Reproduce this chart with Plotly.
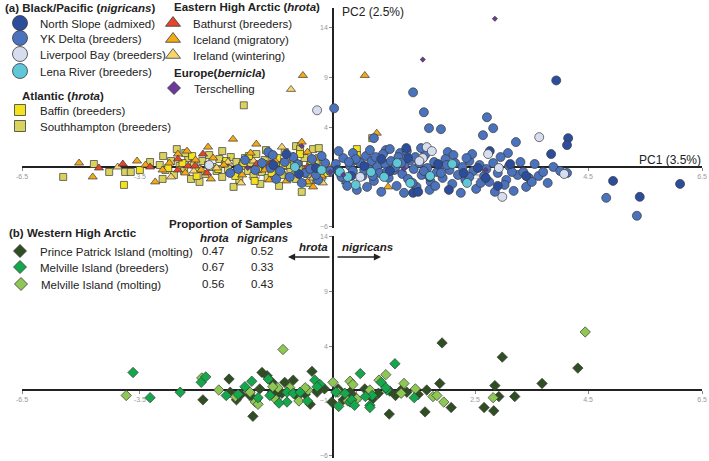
import plotly.graph_objects as go

W, H = 709, 461
FONT = "Liberation Sans, Arial, Helvetica, sans-serif"

# ---------------- data: (PC1, PC2) ----------------
# panel (a)
north_slope = [(3.93, 8.7), (4.14, 2.9), (4.12, 2.2), (1.29, 1.9), (2.76, 1.6), (3.84, 1.3), (1.41, -2.6),
               (1.50, -2.5), (2.04, -2.3), (4.93, -1.4), (5.40, -3.0), (6.11, -1.7), (2.69, -1.1), (-0.82, 1.3),
               (-0.30, -0.1), (0.08, -0.3), (0.55, 0.1), (1.00, -0.4), (1.85, 0.3), (2.30, -0.6), (3.12, 0.3),
               (3.40, -0.9), (0.32, -0.9), (0.85, 0.8), (1.70, -1.0), (2.55, -0.1), (-0.60, -0.7), (-1.05, 0.2),
               (1.32, 0.9), (2.90, -1.9)]
yk_delta = [(1.41, 7.5), (1.60, 5.5), (0.02, 5.9), (1.69, 3.9), (1.90, 3.8), (2.71, 5.0), (2.82, 3.9), (2.64, 3.2),
            (0.72, 2.9), (3.22, 2.5), (0.93, 1.7), (1.18, 1.4), (2.02, 1.5), (2.12, 1.2), (3.08, 1.4), (1.58, 0.9),
            (5.35, -4.9), (4.81, -3.1), (-1.81, -0.6), (-1.67, -0.2), (-1.55, 0.7), (-1.37, -0.3), (-1.25, 0.4),
            (-1.14, 1.5), (-1.06, 1.2), (-0.93, -0.4), (-0.85, 0.5), (-0.76, -1.0), (-0.63, 0.3), (-0.49, -0.6),
            (-0.37, 0.8), (-0.26, -1.3), (-0.14, 0.4), (-0.05, -0.4), (-0.70, 1.0), (-0.40, -0.2), (-0.20, 1.1),
            (-1.00, -1.2), (-0.55, -1.6), (0.05, 0.3), (0.12, -0.6), (0.18, 0.9), (0.22, -1.3), (0.30, 0.1),
            (0.35, -0.4), (0.42, -2.3), (0.48, 0.4), (0.52, -0.9), (0.58, 1.1), (0.63, -0.2), (0.68, 0.6),
            (0.72, -1.4), (0.78, 0.0), (0.82, -0.6), (0.88, 1.3), (0.92, 0.3), (0.98, -1.1), (1.02, 0.6),
            (1.08, -0.3), (1.12, -1.9), (1.15, 1.0), (1.22, -0.7), (1.26, 0.2), (1.32, -1.2), (1.36, 0.7),
            (1.42, -0.2), (1.47, -2.0), (1.52, 0.4), (1.56, -0.8), (1.62, 1.2), (1.66, -0.1), (1.72, -1.5),
            (1.78, 0.5), (1.83, -0.5), (1.88, 0.1), (1.93, -1.1), (1.98, 0.8), (2.05, -0.3), (2.10, -1.7),
            (2.15, 0.4), (2.20, -0.8), (2.28, 0.0), (2.33, -1.3), (2.40, 0.6), (2.47, -0.4), (2.52, -2.2),
            (2.58, 0.2), (2.66, -0.9), (2.75, -1.5), (2.82, 0.4), (2.90, -0.6), (3.05, -1.3), (3.10, 0.1),
            (3.18, -2.4), (3.25, -0.8), (3.35, -0.5), (3.45, -1.1), (3.55, 0.3), (3.62, -0.9), (3.70, -0.5),
            (3.78, -1.6), (3.88, 0.0), (4.00, -0.4), (4.12, -0.6), (0.10, 1.6), (0.35, 1.4), (0.65, 1.7),
            (1.00, 1.8), (1.30, 1.6), (1.55, 1.9), (2.45, 1.3), (0.25, -1.9), (0.60, -2.0), (0.85, -2.5),
            (1.25, -2.6), (1.70, -2.3), (2.25, -2.6), (2.85, -2.5), (3.02, -1.8), (3.40, -2.0), (0.40, 0.8),
            (0.75, 1.0), (1.10, 0.0), (1.45, 1.0), (1.90, -0.6), (2.35, 0.9), (2.95, 1.0), (3.30, 0.5),
            (0.15, -1.0), (0.55, -0.3), (0.95, -0.5), (1.40, -1.6), (1.80, -1.9), (2.60, -1.6), (3.50, -1.5),
            (-1.10, -0.1), (-0.30, -0.8), (0.28, 0.5), (0.70, -0.9), (1.20, 0.4), (1.60, -0.4), (2.00, 0.2),
            (2.40, -1.0), (2.70, -0.2), (3.15, -0.5)]
liverpool_bay = [(-0.28, 5.7), (1.65, 2.0), (1.74, 1.6), (1.58, 0.9), (2.73, 1.3), (2.92, -0.1), (4.07, -0.7),
                 (3.63, 3.0), (2.98, -3.0), (0.48, -1.0), (-2.18, 0.2), (1.52, 0.6)]
lena_river = [(1.13, 0.4), (0.67, -0.5), (0.90, -1.0), (1.36, -1.6), (1.71, -0.9), (2.36, -1.6), (0.40, -1.8),
              (-0.67, 0.0), (0.26, -1.0), (0.12, -0.5), (2.10, 0.3), (-0.20, -0.3)]
baffin = [(-3.68, -1.8), (-3.40, -0.3), (-2.90, -0.1), (-2.65, 0.4), (-2.40, -0.9), (-2.20, 0.2), (-2.02, -0.2),
          (-1.88, 0.6), (-1.72, -0.9), (-1.58, 0.4), (-1.48, 1.1), (-1.32, -0.2), (-1.22, 0.3), (-1.08, -0.6),
          (-0.98, 0.9), (-0.88, 0.2), (-0.78, -1.0), (-0.68, 0.4), (-0.58, 1.3), (-0.48, -0.3), (-0.38, 0.6),
          (-0.28, -1.3), (-0.18, 0.3), (-0.10, -0.6), (0.42, 1.8), (0.42, 1.2), (0.44, 0.6), (0.69, 2.9),
          (-2.48, 1.1), (-1.38, -1.4)]
southhampton = [(-4.21, 0.3), (-4.75, -1.0), (-3.94, -0.5), (-3.66, -0.5), (-3.56, -0.5), (-3.22, 0.5), (-2.99, 1.1),
                (-1.57, 6.2), (-3.05, 0.2), (-2.95, -0.3), (-2.85, 0.6), (-2.80, -0.8), (-2.70, 0.1), (-2.62, -0.4),
                (-2.55, 0.9), (-2.50, -1.2), (-2.45, 0.3), (-2.38, -0.2), (-2.30, 0.6), (-2.25, -0.7), (-2.18, 1.2),
                (-2.12, 0.0), (-2.05, -0.4), (-2.00, 0.8), (-1.95, -1.0), (-1.90, 0.3), (-1.85, -0.2), (-1.80, 1.0),
                (-1.74, -0.6), (-1.70, 0.5), (-1.65, -1.3), (-1.60, 0.1), (-1.55, 0.9), (-1.50, -0.4), (-1.45, 0.4),
                (-1.40, -0.9), (-1.35, 1.3), (-1.30, 0.0), (-1.25, -0.5), (-1.20, 0.7), (-1.15, -1.1), (-1.10, 0.2),
                (-1.05, 1.0), (-1.00, -0.3), (-0.95, 0.5), (-0.90, -0.8), (-0.85, 1.5), (-0.80, 0.1), (-0.75, -0.5),
                (-0.70, 0.8), (-0.65, -1.2), (-0.60, 0.3), (-0.55, -0.2), (-0.55, -2.5), (-0.50, 0.9), (-0.45, -0.7),
                (-0.40, 0.2), (-0.35, 1.8), (-0.30, -0.4), (-0.25, 0.6), (-0.20, -1.0), (-0.15, 0.0), (-0.42, -1.6),
                (-2.60, 1.4), (-1.28, -1.7), (-1.95, 1.6), (-2.35, -1.5), (-0.65, 2.1), (-1.75, -2.0), (-0.95, -1.9),
                (-1.18, 1.7), (-3.00, -1.2), (-2.75, 1.8), (-0.58, 1.8), (-0.25, 1.9)]
bathurst = [(-4.12, -0.1), (-3.70, 0.3), (-2.73, 0.8), (-2.55, 0.1), (-2.43, 0.1), (-2.29, 1.3), (-2.22, -0.6),
            (-1.34, 0.3), (-1.11, 0.3), (-3.22, 0.0), (-2.73, -0.3), (-1.06, 0.4), (-0.45, 0.0), (-0.30, -0.3),
            (-1.70, -0.2)]
iceland = [(-4.47, 0.4), (-4.23, -1.0), (-3.13, -1.5), (-3.30, 0.2), (-2.73, 1.3), (-2.57, 1.6), (-2.20, 2.0),
           (-2.11, 0.9), (-1.76, 2.8), (-0.55, 2.5), (-0.53, 9.2), (0.56, 9.2), (-3.00, -0.3), (-2.88, 0.4),
           (-2.60, -0.6), (-2.42, 0.7), (-2.15, -1.2), (-1.92, 0.2), (-1.60, -0.8), (-1.45, 1.4), (-1.20, -0.3),
           (-1.02, 0.6), (-0.82, -1.4), (-0.70, 1.1), (-0.45, -1.5), (-0.30, 0.9), (-0.20, -0.9), (-0.35, -2.0),
           (0.23, -1.5), (0.97, -2.0), (0.77, 3.4), (-0.45, 1.5), (-1.35, 2.3), (-3.45, 0.6), (-1.12, -1.3),
           (-2.32, -0.3), (-0.10, 0.2)]
ireland = [(-3.79, 0.0), (-0.74, 7.8), (-2.05, -0.1), (-1.62, -1.6), (-1.10, 1.2), (-0.65, -0.3), (-0.35, -1.1),
           (-2.45, -0.4), (-1.85, 0.5), (-0.90, 2.0), (0.10, -0.2), (-2.85, -1.0), (-1.40, 0.6), (-0.18, -1.6)]
terschelling = [(2.85, 14.9), (1.58, 10.8), (-0.55, 2.1), (0.18, -0.8), (2.69, -0.3), (-1.50, -0.1), (-0.05, -0.5),
                (1.25, -0.2)]

# panel (b)
prince_patrick = [(-2.29, -0.9), (-1.83, 1.0), (-1.41, -2.4), (-0.37, 1.7), (-0.02, -1.1), (1.92, 4.3), (2.98, 3.0),
                  (4.31, 2.0), (3.68, 0.6), (2.85, 0.4), (1.88, 0.6), (2.92, -0.6), (3.20, -0.6), (2.66, -1.6),
                  (2.83, -1.9), (1.62, -2.0), (0.99, -2.2), (2.08, -1.6), (-1.25, 1.6), (-1.16, 1.3), (-1.07, 0.7),
                  (-0.70, 0.9), (-0.85, 0.7), (-1.81, -0.2), (-1.62, -0.4), (-1.46, -0.5), (-1.29, 0.1), (-1.07, -0.2),
                  (-1.00, -0.5), (-0.63, -0.6), (-0.49, -0.4), (-0.28, -0.2), (0.09, 0.1), (0.18, -0.9), (0.30, -0.2),
                  (0.39, -0.7), (0.56, 0.1), (0.80, -0.3), (1.00, -0.1), (1.10, -0.5), (1.30, -0.2), (1.50, -0.4),
                  (1.65, 0.0), (-0.15, 0.1), (-1.70, -0.9), (-1.35, -0.9), (-0.90, -0.3), (-0.40, -1.3), (0.70, -0.8),
                  (1.20, 0.0)]
melville_breeders = [(-3.52, 1.6), (-3.22, -0.7), (-2.69, -0.2), (-2.32, 0.7), (-2.24, 1.2), (-1.43, 0.8), (-1.14, 1.0),
                     (-0.32, 0.9), (-0.23, 0.5), (0.48, 1.5), (1.09, 2.4), (-1.67, -0.4), (-1.55, 0.3), (-1.32, -0.7),
                     (-1.11, -0.5), (-0.81, -0.2), (-0.81, -1.1), (-0.70, -0.3), (-0.58, -0.2), (-0.28, 0.3),
                     (0.21, -0.3), (0.30, -1.1), (0.69, -0.5), (0.65, -1.4), (0.57, -0.6), (0.95, 0.0), (1.43, -0.7),
                     (0.65, -1.6), (0.33, -0.9), (0.85, 0.7), (0.93, 0.2), (-0.95, -1.2), (-0.45, -1.0), (0.05, -0.2),
                     (0.10, -1.5), (0.38, -1.4), (-1.88, -0.5)]
melville_molting = [(-3.64, -0.5), (-2.31, 1.1), (-2.01, 0.0), (-0.88, 3.7), (4.44, 5.3), (2.82, -0.7), (1.95, -1.1),
                    (1.76, -0.6), (1.83, -0.5), (0.30, 0.8), (0.35, 0.5), (0.93, 1.4), (0.81, 0.9), (1.25, 0.6),
                    (0.00, 0.7), (-0.44, 0.0), (-1.37, -1.1), (-1.32, -1.3), (-0.97, 0.2), (-1.06, 0.3), (-1.46, -0.2),
                    (-0.76, 0.2), (-0.49, 0.2), (0.09, -0.2), (0.26, -1.0), (0.42, -0.8), (-1.00, -0.9), (-0.60, -1.0),
                    (1.20, -0.3), (1.45, 0.1), (0.65, 0.0), (-1.72, -0.6)]

prop_hrota = [0.47, 0.67, 0.56]
prop_nigricans = [0.52, 0.33, 0.43]

x_tick_vals = [-5.475, -3.40, -1.39, 0.42, 2.5, 4.49, 6.496]
x_tick_text = ["-6.5", "-3.5", "-0.5", "0.5", "2.5", "4.5", "6.5"]
y_tick_vals = [14, 9, 4, -1, -6]

# ---------------- figure ----------------
fig = go.Figure()


def px(x):
    return x / W


def py(y):
    return 1 - y / H


# name, points, color, symbol, size, legend left (px), legend y (px), axes, legend symbol size
groups = [
    ("Southhampton (breeders)", southhampton, "#d9d25c", "square", 7, 0, 126, "x", "y", 11),
    ("Baffin (breeders)", baffin, "#f3e21d", "square", 7, 0, 110, "x", "y", 11),
    ("Ireland (wintering)", ireland, "#f8d46f", "triangle-up", 8, 153, 55, "x", "y", 13),
    ("Iceland (migratory)", iceland, "#f4a915", "triangle-up", 8, 153, 39, "x", "y", 13),
    ("Bathurst (breeders)", bathurst, "#e4462a", "triangle-up", 8, 153, 23, "x", "y", 13),
    ("YK Delta (breeders)", yk_delta, "#4a72bd", "circle", 9, 0, 38, "x", "y", 15),
    ("North Slope (admixed)", north_slope, "#2c4c9c", "circle", 9, 0, 23, "x", "y", 15),
    ("Liverpool Bay (breeders)", liverpool_bay, "#d6ddef", "circle", 9, 0, 54, "x", "y", 15),
    ("Lena River (breeders)", lena_river, "#5fc7d7", "circle", 9, 0, 71, "x", "y", 15),
    ("Terschelling", terschelling, "#6b3a98", "diamond", 4, 154, 88, "x", "y", 10),
    ("Prince Patrick Island (molting)", prince_patrick, "#2f4f22", "diamond", 8, 0, 251, "x2", "y2", 10),
    ("Melville Island (molting)", melville_molting, "#8fc754", "diamond", 8, 1, 284, "x2", "y2", 10),
    ("Melville Island (breeders)", melville_breeders, "#13a84b", "diamond", 8, 0, 267, "x2", "y2", 10),
]

legend_layouts = {}
for i, (name, pts, color, symbol, size, lx, ly, xa, ya, lsize) in enumerate(groups):
    fig.add_trace(go.Scatter(
        x=[p[0] for p in pts], y=[p[1] for p in pts], mode="markers", showlegend=False,
        xaxis=xa, yaxis=ya, cliponaxis=False, hoverinfo="skip",
        marker=dict(color=color, symbol=symbol, size=size, line=dict(color="#3a3a3a", width=0.7)),
    ))
    key = "legend" if i == 0 else f"legend{i + 1}"
    fig.add_trace(go.Scatter(
        x=[None], y=[None], mode="markers", name=name, legend=key, showlegend=True,
        marker=dict(color=color, symbol=symbol, size=lsize, line=dict(color="#3a3a3a", width=0.8)),
    ))
    legend_layouts[key] = dict(
        x=px(lx), y=py(ly), xanchor="left", yanchor="middle",
        bgcolor="rgba(0,0,0,0)", borderwidth=0, itemsizing="trace",
        font=dict(family=FONT, size=11.5, color="#222"),
    )

axis_common = dict(
    showgrid=False, zeroline=False, showline=True, linecolor="#222", linewidth=1.5,
    ticks="outside", ticklen=3, tickcolor="#888", tickwidth=0.8,
    tickfont=dict(family=FONT, size=7, color="#999"), anchor="free", automargin=False,
    layer="below traces",
)
xdom = [px(22), px(702)]
xr = [-5.475, 6.496]

fig.update_layout(
    width=W, height=H, margin=dict(l=0, r=0, t=0, b=0),
    paper_bgcolor="white", plot_bgcolor="white",
    font=dict(family=FONT, color="#222"),
    xaxis=dict(axis_common, domain=xdom, range=xr, position=py(167),
               tickvals=x_tick_vals, ticktext=x_tick_text),
    yaxis=dict(axis_common, domain=[py(228), py(8)], range=[(167 - 228) / 9.95, (167 - 8) / 9.95],
               position=px(333), tickvals=y_tick_vals),
    xaxis2=dict(axis_common, domain=xdom, range=xr, position=py(390),
                tickvals=x_tick_vals, ticktext=x_tick_text),
    yaxis2=dict(axis_common, domain=[py(458), py(236)], range=[(390 - 458) / 10.95, (390 - 236) / 10.95],
                position=px(333), tickvals=y_tick_vals),
    **legend_layouts,
)


def note(text, x, y, size=11.5, xanchor="left", color="#222"):
    fig.add_annotation(text=text, x=px(x), y=py(y), xref="paper", yref="paper", showarrow=False,
                       xanchor=xanchor, yanchor="middle", font=dict(family=FONT, size=size, color=color))


note("<b>(a) Black/Pacific (<i>nigricans</i>)</b>", 3, 8)
note("<b>Atlantic (<i>hrota</i>)</b>", 20, 96)
note("<b>Eastern High Arctic (<i>hrota</i>)</b>", 172, 7)
note("<b>Europe(<i>bernicla</i>)</b>", 172, 73)
note("<b>(b) Western High Arctic</b>", 7, 233)
note("<b>Proportion of Samples</b>", 167, 224)
note("<b><i>hrota</i></b>", 215, 238, xanchor="center")
note("<b><i>nigricans</i></b>", 262, 238, xanchor="center")
for k, (h, n) in enumerate(zip(prop_hrota, prop_nigricans)):
    yy = [251, 267, 284][k]
    note(f"{h:.2f}", 213, yy, xanchor="center")
    note(f"{n:.2f}", 262, yy, xanchor="center")

note("PC2 (2.5%)", 340, 12, size=12)
note("PC1 (3.5%)", 703, 160, size=12, xanchor="right")
note("<b><i>hrota</i></b>", 313, 247, xanchor="center")
note("<b><i>nigricans</i></b>", 340, 247)

# direction arrows
for head, dx in [(288, 43), (381, -45)]:
    fig.add_annotation(text="", x=px(head), y=py(257), xref="paper", yref="paper",
                       showarrow=True, ax=dx, ay=0, arrowhead=2, arrowsize=1.1, arrowwidth=1.3,
                       arrowcolor="#222")

# the page body has a default 8px margin; remove it so the figure fills the window
fig.write_html("out.html", config={"displayModeBar": False},
               post_script="document.body.style.margin='0';")
